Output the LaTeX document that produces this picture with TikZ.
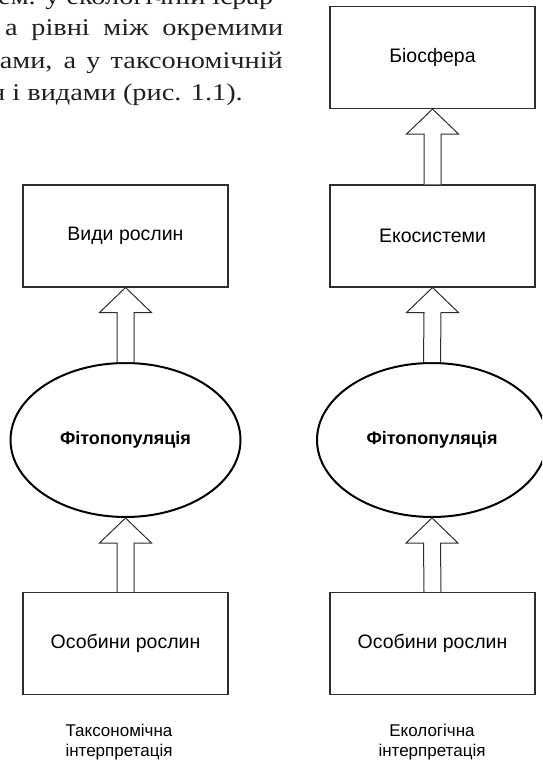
\documentclass[tikz,border=0pt]{standalone}
\usepackage{fontspec}
\setmainfont{Liberation Sans}
\newfontfamily\bookfont[FakeStretch=1.18]{Liberation Serif}
\usepackage{tikz}
\usetikzlibrary{positioning,shapes.geometric,calc}
\usepackage{xcolor}
\definecolor{booktext}{RGB}{35,31,32}
\definecolor{framegray}{RGB}{45,45,45}

\tikzset{
  levelbox/.style={rectangle,draw=framegray,line width=1.1pt,inner sep=0pt,
    minimum width=205,minimum height=102,font=\fontsize{19.5}{23}\selectfont},
  popellipse/.style={ellipse,draw=black,line width=2pt,inner sep=0pt,
    minimum width=230,minimum height=154,font=\bfseries\fontsize{18}{22}\selectfont},
  hollowarrow/.style={draw=framegray,line width=1pt,fill=white,line join=miter},
  caption/.style={align=center,inner sep=0pt,font=\fontsize{17}{20}\selectfont},
  bookline/.style={inner sep=0pt,text=booktext,font=\bookfont\fontsize{24}{31}\selectfont}
}
% #1 = bottom of the shaft, #2 = tip of the arrow
\newcommand\liftarrow[2]{%
  \draw[hollowarrow] ($(#1)+(-8.5,0)$) -- ($(#2)+(-8.5,25)$) -- ($(#2)+(-26,25)$)
    -- (#2) -- ($(#2)+(26,25)$) -- ($(#2)+(8.5,25)$) -- ($(#1)+(8.5,0)$);}

\begin{document}
\begin{tikzpicture}[x=1pt,y=-1pt]
\useasboundingbox (0,0) rectangle (542,760);
\clip (0,0) rectangle (542,760);

% cut-off lines of the page text
\node[bookline,anchor=base east] (txtA) at (283,5) {ем. у екологічній ієрар-};
\node[bookline,anchor=base west] (txtB) at (5,36) {\makebox[278pt][s]{а рівні між окремими}};
\node[bookline,anchor=base east] (txtC) at (283,68) {\makebox[283pt][s]{ами, а у таксономічній}};
\node[bookline,anchor=base east] (txtD) at (243,100) {н і видами (рис. 1.1).};

% taxonomic column
\node[levelbox] (species) at (125.5,236) {Види рослин};
\node[popellipse] (popL) at (125.5,440) {Фітопопуляція};
\node[levelbox] (plantsL) at (125.5,643.5) {Особини рослин};
\node[caption,anchor=north] (taxo) at (119,724) {Таксономічна\\інтерпретація};

% ecological column
\node[levelbox] (biosphere) at (432.5,57.5) {Біосфера};
\node[levelbox] (ecosys) at (432.5,236) {Екосистеми};
\node[popellipse] (popR) at (432,440) {Фітопопуляція};
\node[levelbox] (plantsR) at (432.5,643.5) {Особини рослин};
\node[caption,anchor=north] (eco) at (432,724) {Екологічна\\інтерпретація};

\liftarrow{plantsL.north}{popL.south}
\liftarrow{popL.north}{species.south}
\liftarrow{plantsR.north}{popR.south}
\liftarrow{popR.north}{ecosys.south}
\liftarrow{ecosys.north}{biosphere.south}
\end{tikzpicture}
\end{document}
